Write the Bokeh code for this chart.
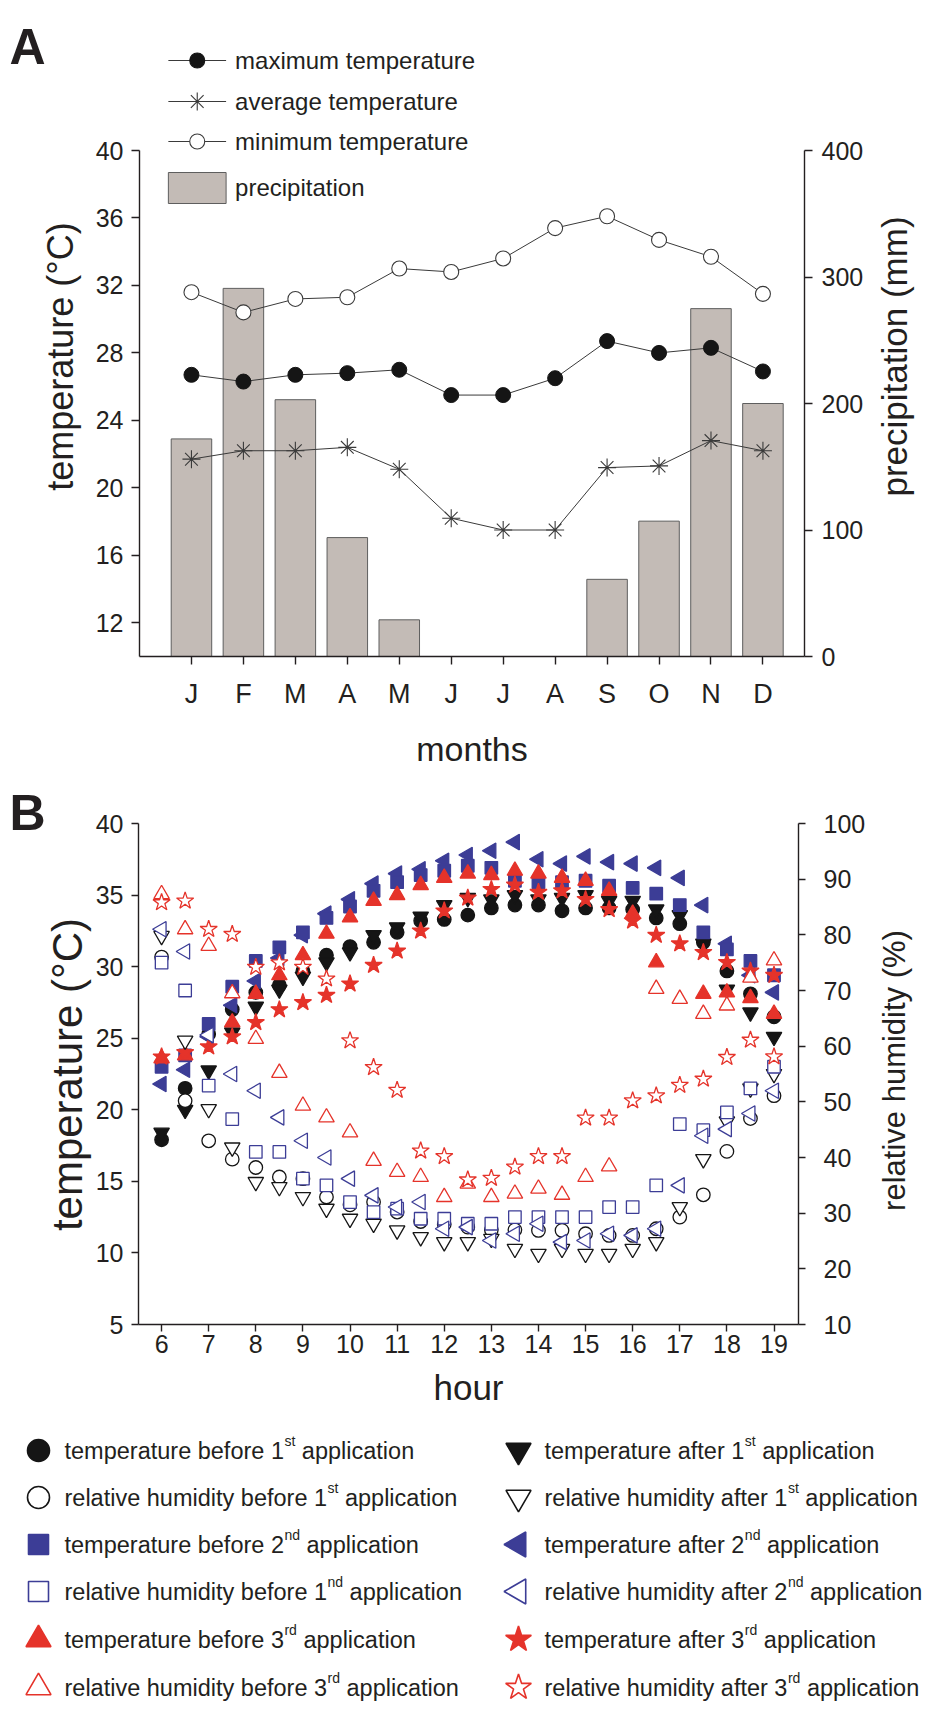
import math
from bokeh.plotting import figure
from bokeh.models import Range1d, LinearAxis, FixedTicker
from bokeh.layouts import row
from bokeh.core.properties import value
from bokeh.embed import file_html
from bokeh.resources import INLINE

NAN = float("nan")

# ---------------- Panel A data ----------------
month_labels = ["J", "F", "M", "A", "M", "J", "J", "A", "S", "O", "N", "D"]
month_pos = list(range(12))
temp_max = [26.7, 26.3, 26.7, 26.8, 27.0, 25.5, 25.5, 26.5, 28.7, 28.0, 28.3, 26.9]
temp_avg = [21.7, 22.2, 22.2, 22.4, 21.1, 18.2, 17.5, 17.5, 21.2, 21.3, 22.8, 22.2]
temp_min = [31.6, 30.4, 31.2, 31.3, 33.0, 32.8, 33.6, 35.4, 36.1, 34.7, 33.7, 31.5]
precip_mm = [172, 291, 203, 94, 29, 0, 0, 0, 61, 107, 275, 200]
tempA_ticks = [12, 16, 20, 24, 28, 32, 36, 40]
precip_ticks = [0, 100, 200, 300, 400]

# ---------------- Panel B data ----------------
hours = [6, 6.5, 7, 7.5, 8, 8.5, 9, 9.5, 10, 10.5, 11, 11.5, 12, 12.5, 13,
         13.5, 14, 14.5, 15, 15.5, 16, 16.5, 17, 17.5, 18, 18.5, 19]
t_before_1 = [17.9, 21.5, 25.3, 27.0, 28.2, 28.7, 29.7, 30.8, 31.4, 31.7, 32.4, 33.2, 33.3, 33.6,
              34.1, 34.3, 34.3, 33.9, 34.1, 34.1, 34.0, 33.4, 33.0, 31.7, 29.7, 28.1, 26.5]
rh_before_1 = [76.0, 50.2, 43.0, 39.7, 38.2, 36.5, 36.2, 32.9, 31.5, 32.0, 30.2, 28.5, 28.0, 27.5,
               27.0, 27.0, 26.9, 26.9, 26.3, 26.0, 26.0, 27.2, 29.3, 33.3, 41.1, 47.0, 51.1]
t_before_2 = [23.0, 23.8, 26.0, 28.6, 30.4, 31.35, 32.4, 33.4, 34.2, 35.3, 35.9, 36.4, 36.7, 37.05,
              36.9, 36.0, 35.9, 35.9, 36.0, 35.65, 35.5, 35.1, 34.3, 32.4, 31.2, 30.4, 29.4]
rh_before_2 = [75.0, 70.0, 52.9, 46.9, 41.0, 41.0, 36.2, 35.0, 32.0, 30.2, 30.8, 29.0, 29.0, 28.1,
               28.1, 29.3, 29.3, 29.3, 29.3, 31.1, 31.1, 35.0, 46.0, 44.9, 48.1, 52.4, 56.3]
t_before_3 = [23.6, 23.8, NAN, 26.1, 28.1, 29.4, 30.8, 32.3, 33.45, 34.6, 35.0, 35.7, 36.2, 36.5,
              36.4, 36.7, 36.5, 36.2, 36.0, 35.3, 33.7, 30.3, NAN, 28.1, 28.2, 27.8, 26.7]
rh_before_3 = [87.3, 81.0, 78.0, 69.5, 61.3, 55.2, 49.3, 47.2, 44.5, 39.4, 37.4, 36.5, 32.9, 35.3,
               32.9, 33.5, 34.4, 33.3, 36.5, 38.4, NAN, 70.3, 68.5, 65.8, 67.3, 72.3, 75.4]
t_after_1 = [18.4, 20.0, 22.75, 25.4, 27.2, 28.4, 29.3, 30.3, 31.0, 32.2, 32.75, 33.5, 34.3, 34.8,
             34.7, 35.0, 34.7, 34.8, 35.0, 34.6, 34.6, 34.0, 33.6, 31.6, 28.4, 26.8, 25.1]
rh_after_1 = [79.8, 61.0, 48.7, 41.8, 35.6, 34.7, 32.9, 30.8, 29.0, 28.1, 26.9, 25.7, 24.8, 24.8,
              25.4, 23.6, 22.7, 23.6, 22.7, 22.7, 23.6, 24.8, 31.1, 39.7, 46.5, 52.4, 55.0]
t_after_2 = [21.8, 22.8, 25.1, 27.3, 29.0, 30.6, 32.2, 33.7, 34.7, 35.8, 36.5, 36.8, 37.4, 37.8,
             38.1, 38.7, 37.5, 37.2, 37.7, 37.3, 37.2, 36.9, 36.2, 34.3, 31.6, 29.4, 28.2]
rh_after_2 = [81.0, 77.0, 62.0, 55.0, 52.0, 47.2, 43.0, 40.0, 36.2, 33.2, 31.1, 32.0, 27.2, 27.5,
              25.1, 26.3, 28.1, 24.8, 25.1, 26.3, 26.0, 27.2, 35.0, 43.9, 45.1, 47.9, 52.0]
t_after_3 = [23.7, 24.0, 24.4, 25.1, 26.1, 27.0, 27.5, 28.0, 28.8, 30.1, 31.1, 32.5, 33.9, 34.8,
             35.4, 35.7, 35.2, 35.3, 34.7, 34.0, 33.2, 32.2, 31.6, 31.0, 30.3, 29.7, 29.4]
rh_after_3 = [85.8, 86.1, 81.0, 80.1, 74.2, 75.0, 74.2, 72.1, 61.0, 56.2, 52.1, 41.2, 40.2, 36.0,
              36.3, 38.3, 40.2, 40.2, 47.1, 47.1, 50.2, 51.1, 53.0, 54.1, 58.0, 61.1, 58.1]
tempB_ticks = [5, 10, 15, 20, 25, 30, 35, 40]
rh_ticks = [10, 20, 30, 40, 50, 60, 70, 80, 90, 100]
hour_ticks = list(range(6, 20))

# ---------------- styling ----------------
FONT = "Liberation Sans"
TEXT = "#231f20"
BLACK = "#151515"
BLUE = "#3c3d96"
RED = "#e5332a"
LINE_A = "#3a3a3a"
BAR_FILL = "#c3bbb6"
BAR_LINE = "#5e5e5e"
LEFT = math.pi / 2

W = 929
HA, HB = 772, 648
HL = 1720 - HA - HB

ARIAL_W = {' ': 278, 'a': 556, 'b': 556, 'c': 500, 'd': 556, 'e': 556, 'f': 278, 'g': 556,
           'h': 556, 'i': 222, 'j': 222, 'k': 500, 'l': 222, 'm': 833, 'n': 556, 'o': 556,
           'p': 556, 'q': 556, 'r': 333, 's': 500, 't': 278, 'u': 556, 'v': 500, 'w': 722,
           'x': 500, 'y': 500, 'z': 500}


def text_width(s, size):
    return sum(ARIAL_W.get(c, 556) for c in s) / 1000.0 * size


def style_axis(a, tick_size, label_size, tick_out, tick_standoff, label_standoff):
    a.axis_line_color = TEXT
    a.axis_line_width = 1.4
    a.major_tick_line_color = TEXT
    a.major_tick_line_width = 1.4
    a.major_tick_out = tick_out
    a.major_tick_in = 0
    a.minor_tick_line_color = None
    a.major_label_text_font = FONT
    a.major_label_text_font_size = f"{tick_size}px"
    a.major_label_text_color = TEXT
    a.major_label_standoff = tick_standoff
    a.axis_label_text_font = FONT
    a.axis_label_text_font_size = f"{label_size}px"
    a.axis_label_text_font_style = "normal"
    a.axis_label_text_color = TEXT
    a.axis_label_standoff = label_standoff


def strip(width, height, frame_bottom_border):
    f = figure(width=width, height=height, x_range=Range1d(0, width),
               y_range=Range1d(height - frame_bottom_border, 0),
               min_border_left=0, min_border_right=0, min_border_top=0,
               min_border_bottom=frame_bottom_border, x_axis_location=None,
               y_axis_location=None, output_backend="svg", toolbar_location=None,
               outline_line_color=None)
    f.grid.visible = False
    return f


def side_text(f, x, y, txt, size, angle=0.0, align="center", baseline="middle", style="normal"):
    f.text(x=[x], y=[y], text=[txt], angle=angle, text_font=value(FONT),
           text_font_size=f"{size}px", text_font_style=style, text_color=TEXT,
           text_baseline=baseline, text_align=align)


# =============== Panel A ===============
SIDE_A = 92
A_L, A_R, A_B = 138, 806, 656          # frame edges on the page
A_Y40 = 150
A_X0, A_X1 = -1.0, 11.8
A_RB = 60                              # right border (ticks + tick labels)
a_ppd = (A_B - A_Y40) / 30.0
A_YTOP = 40 + A_Y40 / a_ppd
a_ppx = (A_R - A_L) / (A_X1 - A_X0)
WA = (A_R - SIDE_A) + A_RB
RA = W - SIDE_A - WA


def ax_(px):
    return A_X0 + (px - A_L) / a_ppx


def ay_(py):
    return A_YTOP - py / a_ppd


pA = figure(width=WA, height=HA, x_range=Range1d(A_X0, A_X1), y_range=Range1d(10, A_YTOP),
            min_border_left=A_L - SIDE_A, min_border_right=A_RB, min_border_top=0,
            min_border_bottom=HA - A_B, output_backend="svg", toolbar_location=None,
            outline_line_color=None)
pA.grid.visible = False
pA.extra_y_ranges = {"precip": Range1d(0, (A_YTOP - 10) * 400.0 / 30.0)}

axL = pA.yaxis[0]
axL.ticker = FixedTicker(ticks=tempA_ticks)
axL.bounds = (10, 40)
style_axis(axL, 25, 35, 8, 8, 0)

axR = LinearAxis(y_range_name="precip", ticker=FixedTicker(ticks=precip_ticks), bounds=(0, 400))
style_axis(axR, 25, 35, 8, 9, 0)
pA.add_layout(axR, "right")

axB = pA.xaxis[0]
axB.ticker = FixedTicker(ticks=month_pos)
axB.major_label_overrides = {i: m for i, m in enumerate(month_labels)}
axB.axis_label = "months"
style_axis(axB, 27, 34, 8, 14, 18)

pA.vbar(x=month_pos, top=precip_mm, bottom=0, width=0.78, y_range_name="precip",
        fill_color=BAR_FILL, line_color=BAR_LINE, line_width=1)
pA.line(month_pos, temp_min, line_color=LINE_A, line_width=1)
pA.line(month_pos, temp_max, line_color=LINE_A, line_width=1)
pA.line(month_pos, temp_avg, line_color=LINE_A, line_width=1)
pA.scatter(month_pos, temp_min, marker="circle", size=15, fill_color="white",
           line_color=LINE_A, line_width=1.1)
pA.scatter(month_pos, temp_max, marker="circle", size=15, fill_color=BLACK, line_color=BLACK)
pA.scatter(month_pos, temp_avg, marker="asterisk", size=18, line_color=LINE_A, line_width=1.1)

# legend of panel A
legA_rows = [60, 101, 141]
legA_names = ["maximum temperature", "average temperature", "minimum temperature"]
legA_marks = [("circle", BLACK, 15), ("asterisk", None, 18), ("circle", "white", 15)]
for ry, (mk, fc, sz) in zip(legA_rows, legA_marks):
    pA.line([ax_(167), ax_(225)], [ay_(ry), ay_(ry)], line_color=LINE_A, line_width=1)
    if fc is None:
        pA.scatter([ax_(196)], [ay_(ry)], marker=mk, size=sz, line_color=LINE_A, line_width=1.1)
    else:
        pA.scatter([ax_(196)], [ay_(ry)], marker=mk, size=sz, fill_color=fc,
                   line_color=BLACK if fc == BLACK else LINE_A, line_width=1.1)
pA.quad(left=[ax_(167)], right=[ax_(225)], top=[ay_(172)], bottom=[ay_(203)],
        fill_color=BAR_FILL, line_color=BAR_LINE, line_width=1)
pA.text(x=[ax_(234)] * 4, y=[ay_(v) for v in legA_rows + [187]],
        text=legA_names + ["precipitation"], text_font=value(FONT), text_font_size="24px",
        text_baseline="middle", text_align="left", text_color=TEXT)

leftA = strip(SIDE_A, HA, HA - A_B)
side_text(leftA, 9, 46, "A", 50, align="left", baseline="alphabetic", style="bold")
side_text(leftA, 60, 356, "temperature (°C)", 36, angle=math.pi / 2)

rightA = strip(RA, HA, HA - A_B)
side_text(rightA, 894 - (SIDE_A + WA), 356, "precipitation (mm)", 35, angle=math.pi / 2)

# =============== Panel B ===============
SIDE_B = 92
PB_TOP = 772                           # page y of panel B's top
B_L, B_R, B_Y40, B_Y5 = 137, 798, 823, 1324
B_X0, B_X1 = 5.51, 19.52
B_RB = 70
b_ppd = (B_Y5 - B_Y40) / 35.0
B_YTOP = 40 + (B_Y40 - PB_TOP) / b_ppd
B_FH = B_Y5 - PB_TOP
WB = (B_R - SIDE_B) + B_RB
RB = W - SIDE_B - WB

pB = figure(width=WB, height=HB, x_range=Range1d(B_X0, B_X1), y_range=Range1d(5, B_YTOP),
            min_border_left=B_L - SIDE_B, min_border_right=B_RB, min_border_top=0,
            min_border_bottom=HB - B_FH, output_backend="svg", toolbar_location=None,
            outline_line_color=None)
pB.grid.visible = False
pB.extra_y_ranges = {"rh": Range1d(10, 10 + (B_YTOP - 5) * 90.0 / 35.0)}

bL = pB.yaxis[0]
bL.ticker = FixedTicker(ticks=tempB_ticks)
bL.bounds = (5, 40)
style_axis(bL, 25, 41, 7, 8, 0)

bR = LinearAxis(y_range_name="rh", ticker=FixedTicker(ticks=rh_ticks), bounds=(10, 100))
style_axis(bR, 25, 32, 7, 18, 0)
pB.add_layout(bR, "right")

bB = pB.xaxis[0]
bB.ticker = FixedTicker(ticks=hour_ticks)
bB.axis_label = "hour"
style_axis(bB, 25, 35, 7, 3, 12)

SZ = {"circle": 13.5, "square": 12.5, "triangle": 15.5, "inverted_triangle": 15.5, "star": 18}


def series(p, ys, marker, fill, line, angle=0.0, rng="default"):
    p.scatter(hours, ys, marker=marker, size=SZ[marker], angle=angle, fill_color=fill,
              line_color=line, line_width=1.3, y_range_name=rng)


series(pB, t_before_1, "circle", BLACK, BLACK)
series(pB, t_after_1, "inverted_triangle", BLACK, BLACK)
series(pB, t_after_2, "triangle", BLUE, BLUE, LEFT)
series(pB, t_before_2, "square", BLUE, BLUE)
series(pB, t_before_3, "triangle", RED, RED)
series(pB, t_after_3, "star", RED, RED)
series(pB, rh_before_1, "circle", "white", BLACK, rng="rh")
series(pB, rh_after_1, "inverted_triangle", "white", BLACK, rng="rh")
series(pB, rh_before_2, "square", "white", BLUE, rng="rh")
series(pB, rh_after_2, "triangle", "white", BLUE, LEFT, rng="rh")
series(pB, rh_before_3, "triangle", "white", RED, rng="rh")
series(pB, rh_after_3, "star", "white", RED, rng="rh")

leftB = strip(SIDE_B, HB, HB - B_FH)
side_text(leftB, 9, 812 - PB_TOP, "B", 50, align="left", baseline="alphabetic", style="bold")
side_text(leftB, 67, 1074 - PB_TOP, "temperature (°C)", 42, angle=math.pi / 2)

rightB = strip(RB, HB, HB - B_FH)
side_text(rightB, 894 - (SIDE_B + WB), 1070 - PB_TOP, "relative humidity (%)", 31,
          angle=math.pi / 2)

# =============== Legend of panel B ===============
pL = figure(width=W, height=HL, x_range=Range1d(0, W), y_range=Range1d(HL, 0),
            min_border=0, x_axis_location=None, y_axis_location=None,
            output_backend="svg", toolbar_location=None, outline_line_color=None)
pL.grid.visible = False

legend_left = [
    ("circle", BLACK, BLACK, 0.0, "temperature before 1", "st"),
    ("circle", "white", BLACK, 0.0, "relative humidity before 1", "st"),
    ("square", BLUE, BLUE, 0.0, "temperature before 2", "nd"),
    ("square", "white", BLUE, 0.0, "relative humidity before 1", "nd"),
    ("triangle", RED, RED, 0.0, "temperature before 3", "rd"),
    ("triangle", "white", RED, 0.0, "relative humidity before 3", "rd"),
]
legend_right = [
    ("inverted_triangle", BLACK, BLACK, 0.0, "temperature after 1", "st"),
    ("inverted_triangle", "white", BLACK, 0.0, "relative humidity after 1", "st"),
    ("triangle", BLUE, BLUE, LEFT, "temperature after 2", "nd"),
    ("triangle", "white", BLUE, LEFT, "relative humidity after 2", "nd"),
    ("star", RED, RED, 0.0, "temperature after 3", "rd"),
    ("star", "white", RED, 0.0, "relative humidity after 3", "rd"),
]
row_y = [30, 77, 124, 171, 219, 267]
LSZ = {"circle": 22, "square": 20, "triangle": 25, "inverted_triangle": 25, "star": 27}
FS = 23.5
SS = 14

mk_x, mk_y, mk_m, mk_f, mk_l, mk_a, mk_s = [], [], [], [], [], [], []
t_x, t_y, t_t = [], [], []
s_x, s_y, s_t = [], [], []
for col_mx, col_tx, entries in [(38, 64, legend_left), (518, 544, legend_right)]:
    for ry, (mk, fc, lc, ang, pre, sup) in zip(row_y, entries):
        mk_x.append(col_mx); mk_y.append(ry); mk_m.append(mk); mk_f.append(fc)
        mk_l.append(lc); mk_a.append(ang); mk_s.append(LSZ[mk])
        t_x.append(col_tx); t_y.append(ry); t_t.append(pre)
        xs = col_tx + text_width(pre, FS) + 0.5
        s_x.append(xs); s_y.append(ry - 10); s_t.append(sup)
        xp = xs + text_width(sup, SS) + text_width(" ", FS)
        t_x.append(xp); t_y.append(ry); t_t.append("application")

pL.scatter(x=mk_x, y=mk_y, marker=mk_m, fill_color=mk_f, line_color=mk_l, angle=mk_a,
           size=mk_s, line_width=1.6)
pL.text(x=t_x, y=t_y, text=t_t, text_font=value(FONT), text_font_size=f"{FS}px",
        text_baseline="middle", text_align="left", text_color=TEXT)
pL.text(x=s_x, y=s_y, text=s_t, text_font=value(FONT), text_font_size=f"{SS}px",
        text_baseline="middle", text_align="left", text_color=TEXT)

open("out.html", "w").write(file_html([row(leftA, pA, rightA), row(leftB, pB, rightB), pL], INLINE))
